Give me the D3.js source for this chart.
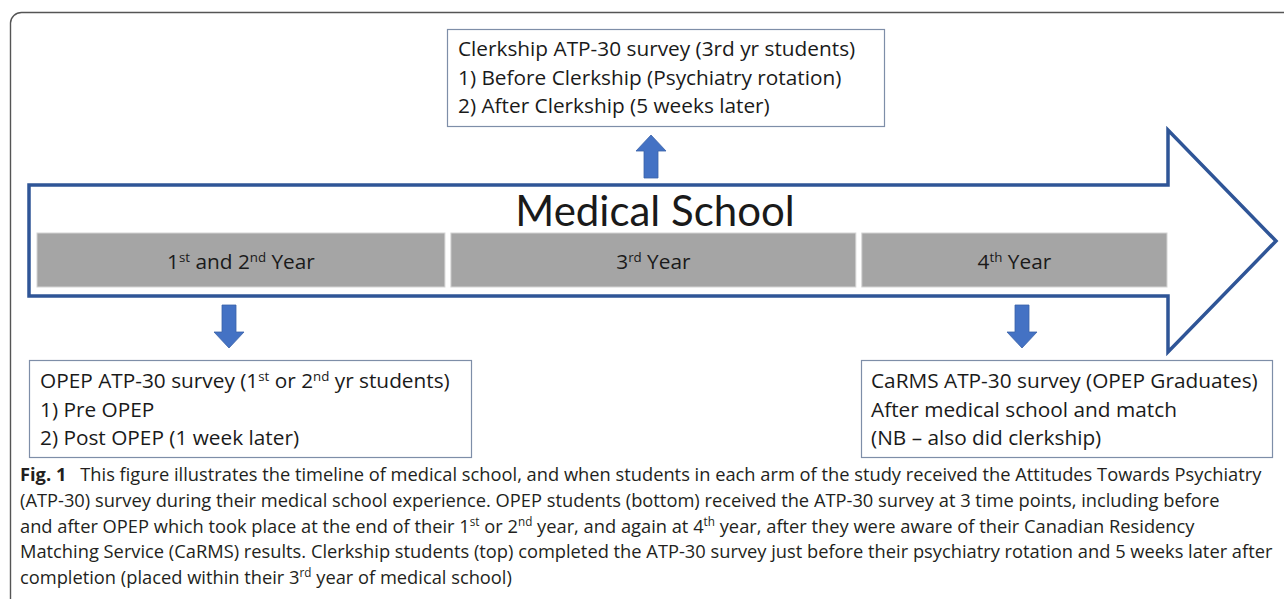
<!DOCTYPE html>
<html>
<head>
<meta charset="utf-8">
<script src="https://cdn.jsdelivr.net/npm/d3@7"></script>
<style>
  html, body { margin: 0; padding: 0; background: #fff; }
  svg { display: block; }
  .seg-label, .box-text { font-family: "Open Sans", Lato, sans-serif; fill: #1a1a1a; }
  .title { font-family: Lato, "Open Sans", sans-serif; fill: #1a1a1a; }
  .caption { font-family: "Open Sans", "Noto Sans", sans-serif; fill: #231f20; }
</style>
</head>
<body>
<div id="vis"><svg></svg></div>
<script>
// ---- content (^{..} marks superscript) ----
const title = "Medical School";
const yearSegments = ["1^{st} and 2^{nd} Year", "3^{rd} Year", "4^{th} Year"];
const clerkshipLines = [
  "Clerkship ATP-30 survey (3rd yr students)",
  "1) Before Clerkship (Psychiatry rotation)",
  "2) After Clerkship (5 weeks later)"
];
const opepLines = [
  "OPEP ATP-30 survey (1^{st} or 2^{nd} yr students)",
  "1) Pre OPEP",
  "2) Post OPEP (1 week later)"
];
const carmsLines = [
  "CaRMS ATP-30 survey (OPEP Graduates)",
  "After medical school and match",
  "(NB \u2013 also did clerkship)"
];
const captionLines = [
  "This figure illustrates the timeline of medical school, and when students in each arm of the study received the Attitudes Towards Psychiatry",
  "(ATP-30) survey during their medical school experience. OPEP students (bottom) received the ATP-30 survey at 3 time points, including before",
  "and after OPEP which took place at the end of their 1^{st} or 2^{nd} year, and again at 4^{th} year, after they were aware of their Canadian Residency",
  "Matching Service (CaRMS) results. Clerkship students (top) completed the ATP-30 survey just before their psychiatry rotation and 5 weeks later after",
  "completion (placed within their 3^{rd} year of medical school)"
];

var W = 1284, H = 599;
var svg = d3.select("#vis").select("svg")
  .attr("width", W).attr("height", H);

// split "a^{b}c" into pieces
function pieces(s) {
  let out = [], re = /\^\{([^}]*)\}/g, last = 0, m;
  while ((m = re.exec(s)) !== null) {
    if (m.index > last) out.push({t: s.slice(last, m.index), sup: false});
    out.push({t: m[1], sup: true});
    last = re.lastIndex;
  }
  if (last < s.length) out.push({t: s.slice(last), sup: false});
  return out;
}

function richText(sel, str, size) {
  let shift = Math.round(size * 0.36);
  let up = false;
  pieces(str).forEach(p => {
    let ts = sel.append("tspan").text(p.t);
    if (p.sup) {
      ts.attr("dy", -shift).style("font-size", (size * 0.64) + "px");
      up = true;
    } else if (up) {
      ts.attr("dy", shift);
      up = false;
    }
  });
}

// outer rounded frame (cut off by the page)
svg.append("path")
  .attr("d", "M10.5," + (H + 5) + " V23 A11,11 0 0 1 21.5,12.5 H" + (W + 5))
  .attr("fill", "none").attr("stroke", "#555").attr("stroke-width", 1.4);

// ---- timeline arrow ----
var shaftTop = 185, shaftBot = 296, shaftLeft = 29, headX = 1168, tipX = 1276;
var headTop = 130, headBot = 352, midY = (headTop + headBot) / 2;

svg.append("path")
  .attr("d", d3.line()([
    [shaftLeft, shaftTop], [headX, shaftTop], [headX, headTop], [tipX, midY],
    [headX, headBot], [headX, shaftBot], [shaftLeft, shaftBot]
  ]) + "Z")
  .attr("fill", "#fff").attr("stroke", "#2f5597").attr("stroke-width", 3.5)
  .attr("stroke-linejoin", "miter");

svg.append("text").attr("class", "title")
  .attr("x", 655).attr("y", 226)
  .attr("text-anchor", "middle")
  .style("font-size", "42px")
  .text(title);

// year segments: relative widths along the shaft
var segWeights = [4, 4, 3];
var segX = d3.scaleLinear()
  .domain([0, d3.sum(segWeights)])
  .range([37, 1167]);
var cum = d3.cumsum(segWeights);
var segs = yearSegments.map((name, i) => ({
  name: name,
  x0: segX(i ? cum[i - 1] : 0) + (i ? 3 : 0),
  x1: segX(cum[i]) - (i < 2 ? 3 : 0)
}));

var segY0 = 233, segY1 = 287;
svg.selectAll("rect.seg")
  .data(segs).enter()
  .append("rect").attr("class", "seg")
  .attr("x", d => d.x0).attr("y", segY0)
  .attr("width", d => d.x1 - d.x0).attr("height", segY1 - segY0)
  .attr("fill", "#a5a5a5").attr("stroke", "#d4d4d4").attr("stroke-width", 1);

var fs = 20.8;
svg.selectAll("text.seg-label")
  .data(segs).enter()
  .append("text").attr("class", "seg-label")
  .attr("x", d => (d.x0 + d.x1) / 2).attr("y", 269)
  .attr("text-anchor", "middle")
  .style("font-size", fs + "px")
  .each(function(d) { richText(d3.select(this), d.name, fs); });

// ---- small block arrows ----
function blockArrow(cx, y0, y1, dir) {
  var hw = 15, sw = 7, hl = 16;
  var pts;
  if (dir === "up") {
    pts = [[cx, y0], [cx + hw, y0 + hl], [cx + sw, y0 + hl], [cx + sw, y1],
           [cx - sw, y1], [cx - sw, y0 + hl], [cx - hw, y0 + hl]];
  } else {
    pts = [[cx - sw, y0], [cx + sw, y0], [cx + sw, y1 - hl], [cx + hw, y1 - hl],
           [cx, y1], [cx - hw, y1 - hl], [cx - sw, y1 - hl]];
  }
  svg.append("path")
    .attr("d", d3.line()(pts) + "Z")
    .attr("fill", "#4472c4").attr("stroke", "#3a62a8").attr("stroke-width", 0.8);
}
blockArrow(651, 135, 178, "up");
blockArrow(229, 305, 348, "down");
blockArrow(1022, 305, 348, "down");

// ---- survey boxes ----
var boxes = [
  {lines: clerkshipLines, x: 447, y: 29, w: 437, h: 97, tx: 458, ty: 56},
  {lines: opepLines, x: 29, y: 360, w: 442, h: 97, tx: 40, ty: 388},
  {lines: carmsLines, x: 861, y: 360, w: 411, h: 97, tx: 871, ty: 388}
];
var lineH = 28.5;

boxes.forEach(b => {
  var g = svg.append("g");
  g.append("rect")
    .attr("x", b.x + 0.5).attr("y", b.y + 0.5)
    .attr("width", b.w).attr("height", b.h)
    .attr("fill", "#fff").attr("stroke", "#7e8ea8").attr("stroke-width", 1.2);
  g.selectAll("text")
    .data(b.lines).enter()
    .append("text").attr("class", "box-text")
    .attr("x", b.tx).attr("y", (d, i) => b.ty + i * lineH)
    .style("font-size", fs + "px")
    .each(function(d) { richText(d3.select(this), d, fs); });
});

// ---- caption ----
var capSize = 18.3, capLead = 25.8, capY = 481;
var cap = svg.append("g")
  .attr("transform", "translate(20,0)");

cap.selectAll("text.caption")
  .data(captionLines).enter()
  .append("text").attr("class", "caption")
  .attr("x", 0).attr("y", (d, i) => capY + i * capLead)
  .style("font-size", capSize + "px")
  .each(function(d, i) {
    var t = d3.select(this);
    if (i === 0) {
      t.append("tspan").style("font-weight", "bold").text("Fig. 1");
      t.append("tspan").text("\u2002 ");
    }
    richText(t, d, capSize);
  });
</script>
</body>
</html>
